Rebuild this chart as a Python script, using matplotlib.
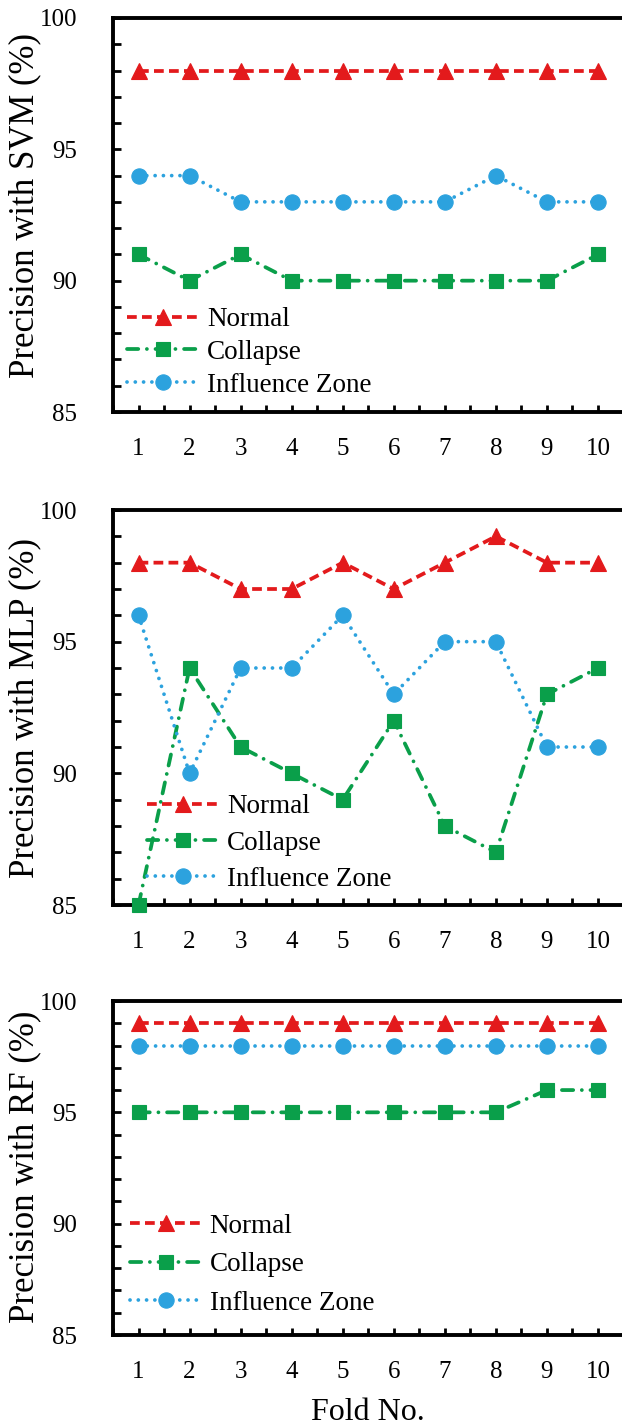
import numpy as np
import matplotlib
matplotlib.use("Agg")
import matplotlib.pyplot as plt
from matplotlib.ticker import MultipleLocator

plt.rcParams['font.family'] = ['Liberation Serif', 'DejaVu Serif']

folds = [1, 2, 3, 4, 5, 6, 7, 8, 9, 10]
series_names = ["Normal", "Collapse", "Influence Zone"]

svm_normal = [98, 98, 98, 98, 98, 98, 98, 98, 98, 98]
svm_collapse = [91, 90, 91, 90, 90, 90, 90, 90, 90, 91]
svm_influence = [94, 94, 93, 93, 93, 93, 93, 94, 93, 93]

mlp_normal = [98, 98, 97, 97, 98, 97, 98, 99, 98, 98]
mlp_collapse = [85, 94, 91, 90, 89, 92, 88, 87, 93, 94]
mlp_influence = [96, 90, 94, 94, 96, 93, 95, 95, 91, 91]

rf_normal = [99, 99, 99, 99, 99, 99, 99, 99, 99, 99]
rf_collapse = [95, 95, 95, 95, 95, 95, 95, 95, 96, 96]
rf_influence = [98, 98, 98, 98, 98, 98, 98, 98, 98, 98]

ylabels = ["Precision with SVM (%)", "Precision with MLP (%)", "Precision with RF (%)"]

RED = '#E31A1C'
GREEN = '#0A9F4A'
BLUE = '#2CA2DE'

LW = 2.7
styles = [
    dict(color=RED, marker='^', dashes=(2.6, 1.4), cap='butt', ms=11),
    dict(color=GREEN, marker='s', dashes=(3.0, 2.3, 0.01, 2.3), cap='round', ms=10.5),
    dict(color=BLUE, marker='o', dashes=(0.01, 2.2), cap='round', ms=11),
]

W, H = 622, 1425
fig = plt.figure(figsize=(W / 100, H / 100), dpi=100)

panels = [
    dict(data=[svm_normal, svm_collapse, svm_influence], top=18, bottom=412,
         leg=(0.0275, 0.036, 0.29), ylab_y=0.525),
    dict(data=[mlp_normal, mlp_collapse, mlp_influence], top=510, bottom=905,
         leg=(0.067, 0.033, 0.42), ylab_y=0.5),
    dict(data=[rf_normal, rf_collapse, rf_influence], top=1001, bottom=1335,
         leg=(0.033, 0.057, 0.50), ylab_y=0.505),
]

for k, p in enumerate(panels):
    left = 113 / W
    width = 510.5 / W
    bottom = 1 - p['bottom'] / H
    height = (p['bottom'] - p['top']) / H
    ax = fig.add_axes([left, bottom, width, height])
    ax.set_xlim(0.5, 10.5)
    ax.set_ylim(85, 100)

    for vals, st, name in zip(p['data'], styles, series_names):
        ax.plot(folds, vals, color=st['color'], lw=LW, dashes=st['dashes'],
                dash_capstyle=st['cap'], marker=st['marker'], ms=st['ms'],
                mec=st['color'], mfc=st['color'], mew=0.8, zorder=3,
                clip_on=False, label=name)

    ax.spines['right'].set_visible(False)
    for side in ['left', 'bottom', 'top']:
        ax.spines[side].set_linewidth(2.8)
        ax.spines[side].set_color('black')

    ax.xaxis.set_major_locator(MultipleLocator(1))
    ax.xaxis.set_minor_locator(MultipleLocator(0.5))
    ax.yaxis.set_major_locator(MultipleLocator(5))
    ax.yaxis.set_minor_locator(MultipleLocator(1))
    ax.tick_params(axis='both', which='both', direction='in', width=2.0, top=False, right=False)
    ax.tick_params(axis='x', which='both', length=5)
    ax.tick_params(axis='y', which='both', length=6)
    ax.tick_params(axis='x', which='major', labelsize=18, pad=19)
    ax.tick_params(axis='y', which='major', labelsize=18, pad=26)
    ax.set_xticks(folds)
    ax.set_xticklabels([str(f) for f in folds])

    ax.set_ylabel(ylabels[k], fontsize=25)
    ax.yaxis.set_label_coords(-0.141, p['ylab_y'])

    lx, ly, ls = p['leg']
    ax.legend(loc='lower left', bbox_to_anchor=(lx, ly),
              frameon=False, fontsize=19.5, handlelength=2.65, handletextpad=0.3,
              borderpad=0, borderaxespad=0, labelspacing=ls)

    if k == 2:
        ax.set_xlabel("Fold No.", fontsize=23)
        ax.xaxis.set_label_coords(0.5, -0.19)

fig.savefig("out.png", dpi=100)
